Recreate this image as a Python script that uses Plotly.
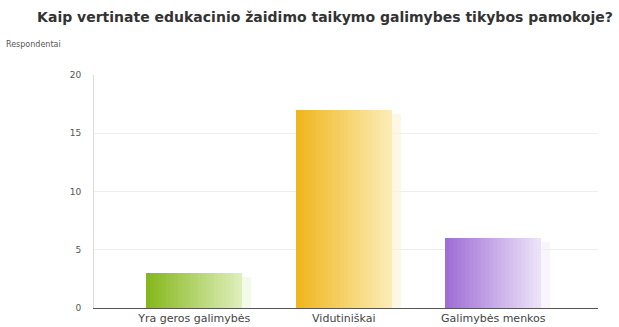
import plotly.graph_objects as go

categories = ["Yra geros galimybės", "Vidutiniškai", "Galimybės menkos"]
values = [3, 17, 6]
y_ticks = [0, 5, 10, 15, 20]

left_colors = [(134, 184, 30), (240, 182, 30), (160, 110, 215)]
right_colors = [(222, 238, 185), (252, 236, 180), (236, 226, 248)]

fig = go.Figure()
x = list(range(len(categories)))
bar_w = 0.64
n_slices = 24

def mix(a, b, t):
    return "rgb(%d,%d,%d)" % tuple(round(a[i] + (b[i] - a[i]) * t) for i in range(3))

# soft shadow behind bars
fig.add_trace(go.Bar(
    x=x, y=[v - 0.35 for v in values], width=bar_w, offset=-bar_w / 2 + 0.06,
    marker=dict(color=[mix(c, (255, 255, 255), 0.45) for c in right_colors], line=dict(width=0)),
    opacity=0.6, hoverinfo="skip", showlegend=False))

step = bar_w / n_slices
for k in range(n_slices):
    t = k / (n_slices - 1)
    w = bar_w - k * step
    fig.add_trace(go.Bar(
        x=x, y=values, width=w,
        offset=-bar_w / 2 + k * step,
        marker=dict(color=[mix(left_colors[i], right_colors[i], t) for i in range(3)], line=dict(width=0)),
        showlegend=False, hoverinfo="skip"))

fig.update_layout(
    width=619, height=327,
    margin=dict(l=94, r=21, t=75, b=19),
    paper_bgcolor="white", plot_bgcolor="white",
    barmode="overlay", bargap=0,
    title=dict(text="Kaip vertinate edukacinio žaidimo taikymo galimybes tikybos pamokoje?",
               x=0.525, xanchor="center", y=0.948, yanchor="middle",
               font=dict(family="DejaVu Sans", size=14, color="#333333", weight="bold")),
    font=dict(family="DejaVu Sans", color="#555555"),
)
fig.update_xaxes(
    tickmode="array", tickvals=x, ticktext=categories, range=[-0.67, 2.70],
    showgrid=False, showline=True, linecolor="#555555", linewidth=1, automargin=False,
    ticks="", tickfont=dict(size=11, color="#444444"), zeroline=False, fixedrange=True)
fig.update_yaxes(
    range=[0, 20], tickvals=y_ticks, showgrid=True, gridcolor="#eeeeee",
    showline=True, linecolor="#dddddd", zeroline=False, ticks="", automargin=False,
    tickfont=dict(size=9, color="#555555"), ticklabelstandoff=10, fixedrange=True)
fig.add_annotation(text="Respondentai", xref="paper", yref="paper", x=-0.178, y=1.13,
                   xanchor="left", yanchor="middle", showarrow=False,
                   font=dict(size=8, color="#555555"))

fig.write_html("out.html")
